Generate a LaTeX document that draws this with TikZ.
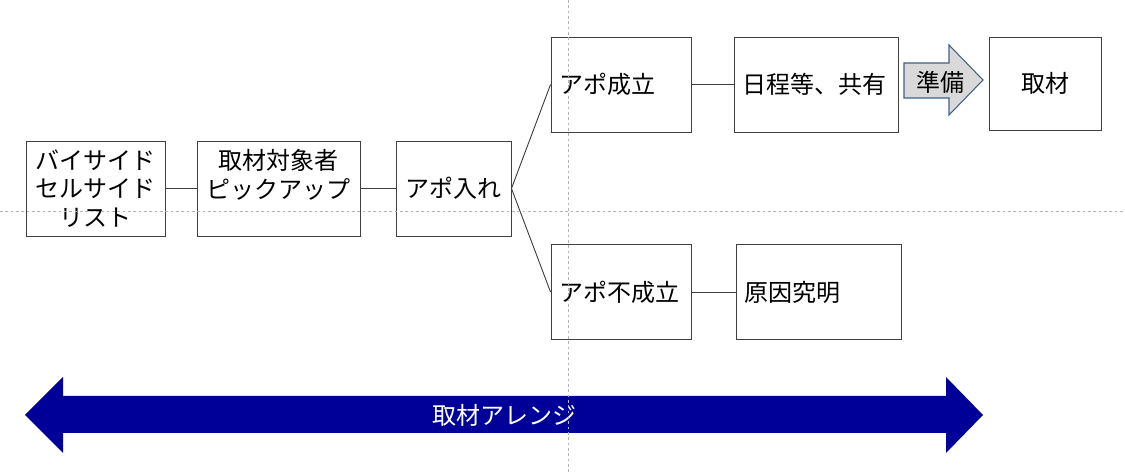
\documentclass[tikz,border=0pt]{standalone}
\usepackage{fontspec}
\newfontfamily\jp{Noto Sans CJK JP}
\usepackage{xcolor}
\usepackage{tikz}
\definecolor{boxline}{HTML}{404040}
\definecolor{navyarrow}{HTML}{000099}
\definecolor{prepfill}{HTML}{D9D9D9}
\definecolor{prepline}{HTML}{41618A}
\definecolor{guide}{HTML}{B4B4B4}

\begin{document}
\begin{tikzpicture}[x=0.75pt,y=-0.75pt]
\tikzstyle{every node}+=[font=\jp\fontsize{18}{21.6}\selectfont]
\tikzstyle{flowbox}=[draw=boxline, line width=0.7pt, align=center, minimum height=71.25pt, inner sep=0pt]
\tikzstyle{leftbox}=[flowbox, align=left, inner xsep=6.5pt]
\tikzstyle{link}=[boxline, line width=0.7pt]
\tikzstyle{guideline}=[guide, line width=0.5pt, dash pattern=on 2pt off 2pt]
\useasboundingbox (0,0) rectangle (1125,473);
\node [flowbox, minimum width=104.25pt] (list) at (95.5,188.5) {バイサイド\\セルサイド\\リスト};
\node [flowbox, minimum width=122.25pt] (pick) at (278.5,188.5) {取材対象者\\ピックアップ\\\mbox{}};
\node [flowbox, minimum width=86.25pt] (apoin) at (453.5,188.5) {アポ入れ};
\node [leftbox, text width=92pt] (ok) at (621,84.5) {アポ成立};
\node [leftbox, text width=110pt] (share) at (816,84.5) {日程等、共有};
\node [flowbox, minimum width=84pt, minimum height=69.75pt] (shuzai) at (1045,83.5) {取材};
\node [leftbox, text width=92pt] (ng) at (621,292) {アポ不成立};
\node [leftbox, text width=110.75pt] (cause) at (818.5,292) {原因究明};
\draw [link] (list) -- (pick);
\draw [link] (pick) -- (apoin);
\draw [link] (apoin.east) -- (ok.west);
\draw [link] (apoin.east) -- (ng.west);
\draw [link] (ok) -- (share);
\draw [link] (ng) -- (cause);
\filldraw [fill=prepfill, draw=prepline, line width=0.8pt] (904,63) -- (949,63) -- (949,45) -- (983,80) -- (949,115) -- (949,98) -- (904,98) -- cycle;
\node (prep) at (940,82) {準備};
\fill [navyarrow] (25,415) -- (63,377) -- (63,396) -- (946,396) -- (946,377) -- (983,415) -- (946,453) -- (946,433) -- (63,433) -- (63,453) -- cycle;
\node [text=white] (arrange) at (504,415) {取材アレンジ};
\draw [guideline] (568,0) -- (568,473);
\draw [guideline] (0,211) -- (1125,211);
\end{tikzpicture}
\end{document}
